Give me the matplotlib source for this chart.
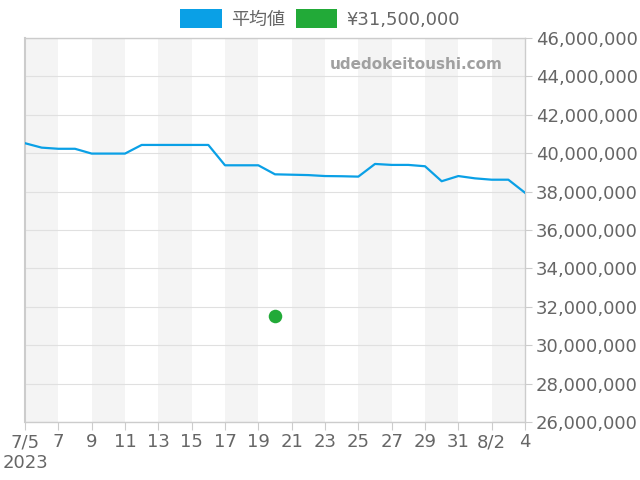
import matplotlib
matplotlib.use("Agg")
import matplotlib.pyplot as plt
import matplotlib.dates as mdates
from matplotlib.patches import Patch
import pandas as pd
import numpy as np

dates = pd.date_range("2023-07-05", "2023-08-04", freq="D")
avg_values = [40.52, 40.29, 40.23, 40.23, 39.98, 39.98, 39.98, 40.43, 40.43, 40.43,
              40.43, 40.43, 39.37, 39.37, 39.37, 38.90, 38.88, 38.86, 38.81, 38.80,
              38.78, 39.44, 39.39, 39.39, 39.32, 38.54, 38.81, 38.69, 38.62, 38.62,
              37.94]
avg_values = [v * 1e6 for v in avg_values]
point_date = pd.Timestamp("2023-07-20")
point_value = 31_500_000
tick_dates = pd.date_range("2023-07-05", "2023-08-04", freq="2D")
tick_labels = ["7/5\n2023", "7", "9", "11", "13", "15", "17", "19", "21", "23",
               "25", "27", "29", "31", "8/2", "4"]
y_ticks = list(range(26_000_000, 46_000_001, 2_000_000))

blue = "#0aa0e6"
green = "#22aa38"
txt = "#666666"

fig = plt.figure(figsize=(6.4, 4.8), dpi=100)
ax = fig.add_axes([25/640, 58/480, 500/640, 384/480])

# alternating bands
for i in range(0, len(tick_dates) - 1, 2):
    ax.axvspan(tick_dates[i], tick_dates[i + 1], color="#f4f4f4", zorder=0, lw=0)

for y in y_ticks:
    ax.axhline(y, color="#e0e0e0", lw=0.8, zorder=1)

ax.plot(dates, avg_values, color=blue, lw=1.6, zorder=3)
ax.scatter([point_date], [point_value], s=95, color=green, zorder=4, linewidths=0)

ax.set_xlim(dates[0], dates[-1])
ax.set_ylim(26_000_000, 46_000_000)
ax.set_xticks(tick_dates)
ax.set_xticklabels(tick_labels)
ax.set_yticks(y_ticks)
ax.set_yticklabels([f"{v:,}" for v in y_ticks])
ax.yaxis.tick_right()
ax.tick_params(axis="both", colors="#cccccc", labelcolor=txt, labelsize=13, length=6)
ax.tick_params(axis="y", length=5, pad=3)
ax.tick_params(axis="x", pad=2)
for s in ax.spines.values():
    s.set_color("#cccccc")
    s.set_linewidth(1)
ax.spines["left"].set_linewidth(1.5)

ax.text(0.955, 0.932, "udedokeitoushi.com", transform=ax.transAxes, ha="right", va="center",
        fontsize=11, fontweight="bold", color="#a0a0a0", family="DejaVu Sans")

handles = [Patch(facecolor=blue, edgecolor="none"), Patch(facecolor=green, edgecolor="none")]
leg = fig.legend(handles, ["平均値", "¥31,500,000"], loc="center", bbox_to_anchor=(320/640, 1 - 19/480),
                 ncol=2, frameon=False, handlelength=2.3, handleheight=1.25, handletextpad=0.5,
                 columnspacing=0.6, prop={"family": ["DejaVu Sans", "Noto Sans CJK JP"], "size": 13})
for t in leg.get_texts():
    t.set_color(txt)

fig.savefig("out.png", dpi=100)
